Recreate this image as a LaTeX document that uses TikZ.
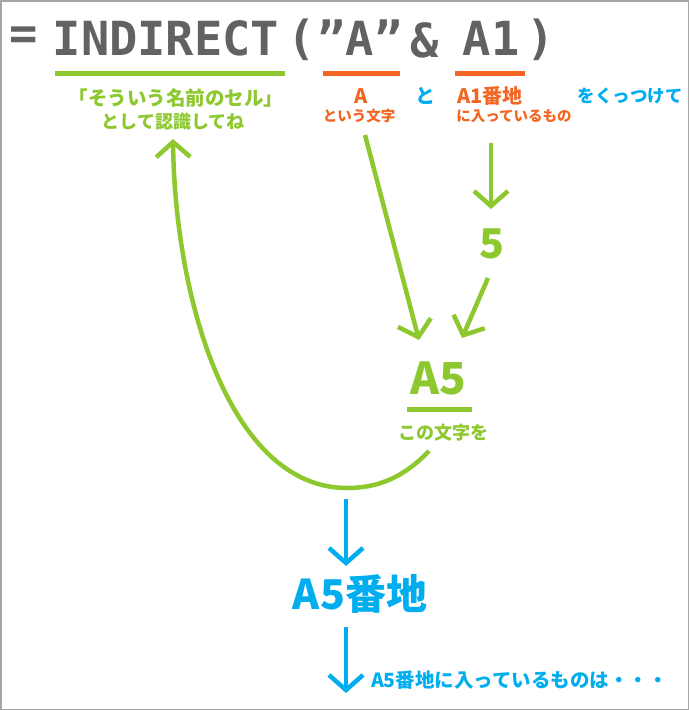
\documentclass[tikz,border=0pt]{standalone}
\usepackage{fontspec}
\usetikzlibrary{arrows.meta}
\newfontfamily\jp{Noto Sans CJK JP}
\newfontfamily\monof{DejaVu Sans Mono}
\definecolor{cgreen}{RGB}{141,200,46}
\definecolor{corange}{RGB}{242,101,34}
\definecolor{cblue}{RGB}{0,174,239}
\definecolor{cgray}{RGB}{98,98,98}
\tikzset{
  every node/.style={inner sep=0pt, outer sep=0pt},
  ttl/.style={text=cgray, font=\monof\bfseries\fontsize{47}{47}\selectfont},
  jtxt/.style={font=\jp\bfseries\fontsize{#1}{#1}\selectfont},
  uline/.style={line width=5pt},
  arr/.style={line width=4.5pt, -{Straight Barb[length=15pt,width=34pt]}},
}
\begin{document}
\begin{tikzpicture}[x=1pt,y=-1pt]
\useasboundingbox (0,0) rectangle (690,710);
\draw[gray!70, line width=1.5pt] (0.75,0.75) rectangle (688.5,709.25);

% title
\node[ttl] (eq) at (24,38) {=};
\node[ttl] (ind) at (166,38) {INDIRECT};
\node[ttl] (lp) at (302,40) {(};
\node[ttl] (qa) at (360,38) {”A”};
\node[ttl] (amp) at (425,40) {\&};
\node[ttl] (a1) at (491,38) {A1};
\node[ttl] (rp) at (541,40) {)};

% underlines
\draw[uline, cgreen] (55,73) -- (285,73);
\draw[uline, corange] (323,73) -- (400,73);
\draw[uline, corange] (455,73) -- (525,73);

% labels row
\node[jtxt=19.5, text=cgreen] (name1) at (176,98) {「そういう名前のセル」};
\node[jtxt=18, text=cgreen] (name2) at (173,122) {として認識してね};
\node[jtxt=20, text=corange] (A) at (361,96) {A};
\node[jtxt=14.5, text=corange] (Asub) at (359,116) {という文字};
\node[jtxt=20, text=cblue] (to) at (425,96) {と};
\node[jtxt=20, text=corange] (A1b) at (490,96) {A1番地};
\node[jtxt=14.5, text=corange] (A1sub) at (514,116) {に入っているもの};
\node[jtxt=17.5, text=cblue] (kuttsu) at (630,96) {をくっつけて};

% five
\node[jtxt=41, text=cgreen] (five) at (492,244) {5};
% A5
\node[jtxt=44, text=cgreen] (A5) at (438,378) {A5};
\draw[uline, cgreen] (407,409) -- (472,409);
\node[jtxt=18, text=cgreen] (kono) at (443,433) {この文字を};

% A5 banchi
\node[jtxt=41, text=cblue] (A5b) at (360,594) {A5番地};
\node[jtxt=19.5, text=cblue, anchor=west] (final) at (371,680) {A5番地に入っているものは・・・};

% connector coordinates
\coordinate (c1s) at (365,135);
\coordinate (c1e) at (419,340);
\coordinate (c2s) at (491,143);
\coordinate (c2e) at (491,209);
\coordinate (c3s) at (488,278);
\coordinate (c3e) at (462,338);
\coordinate (c4s) at (429,451);
\coordinate (c4b) at (347,488);
\coordinate (c4e) at (173,139);
\coordinate (c5s) at (346,499);
\coordinate (c5e) at (346,566);
\coordinate (c6s) at (346,627);
\coordinate (c6e) at (346,693);

\draw[arr, cgreen] (c1s) -- (c1e);
\draw[arr, cgreen] (c2s) -- (c2e);
\draw[arr, cgreen] (c3s) -- (c3e);
\draw[arr, cgreen] (c4s) .. controls (405,476) and (380,488) .. (c4b)
   .. controls (230,488) and (175,300) .. (c4e);
\draw[arr, cblue] (c5s) -- (c5e);
\draw[arr, cblue] (c6s) -- (c6e);
\end{tikzpicture}
\end{document}
